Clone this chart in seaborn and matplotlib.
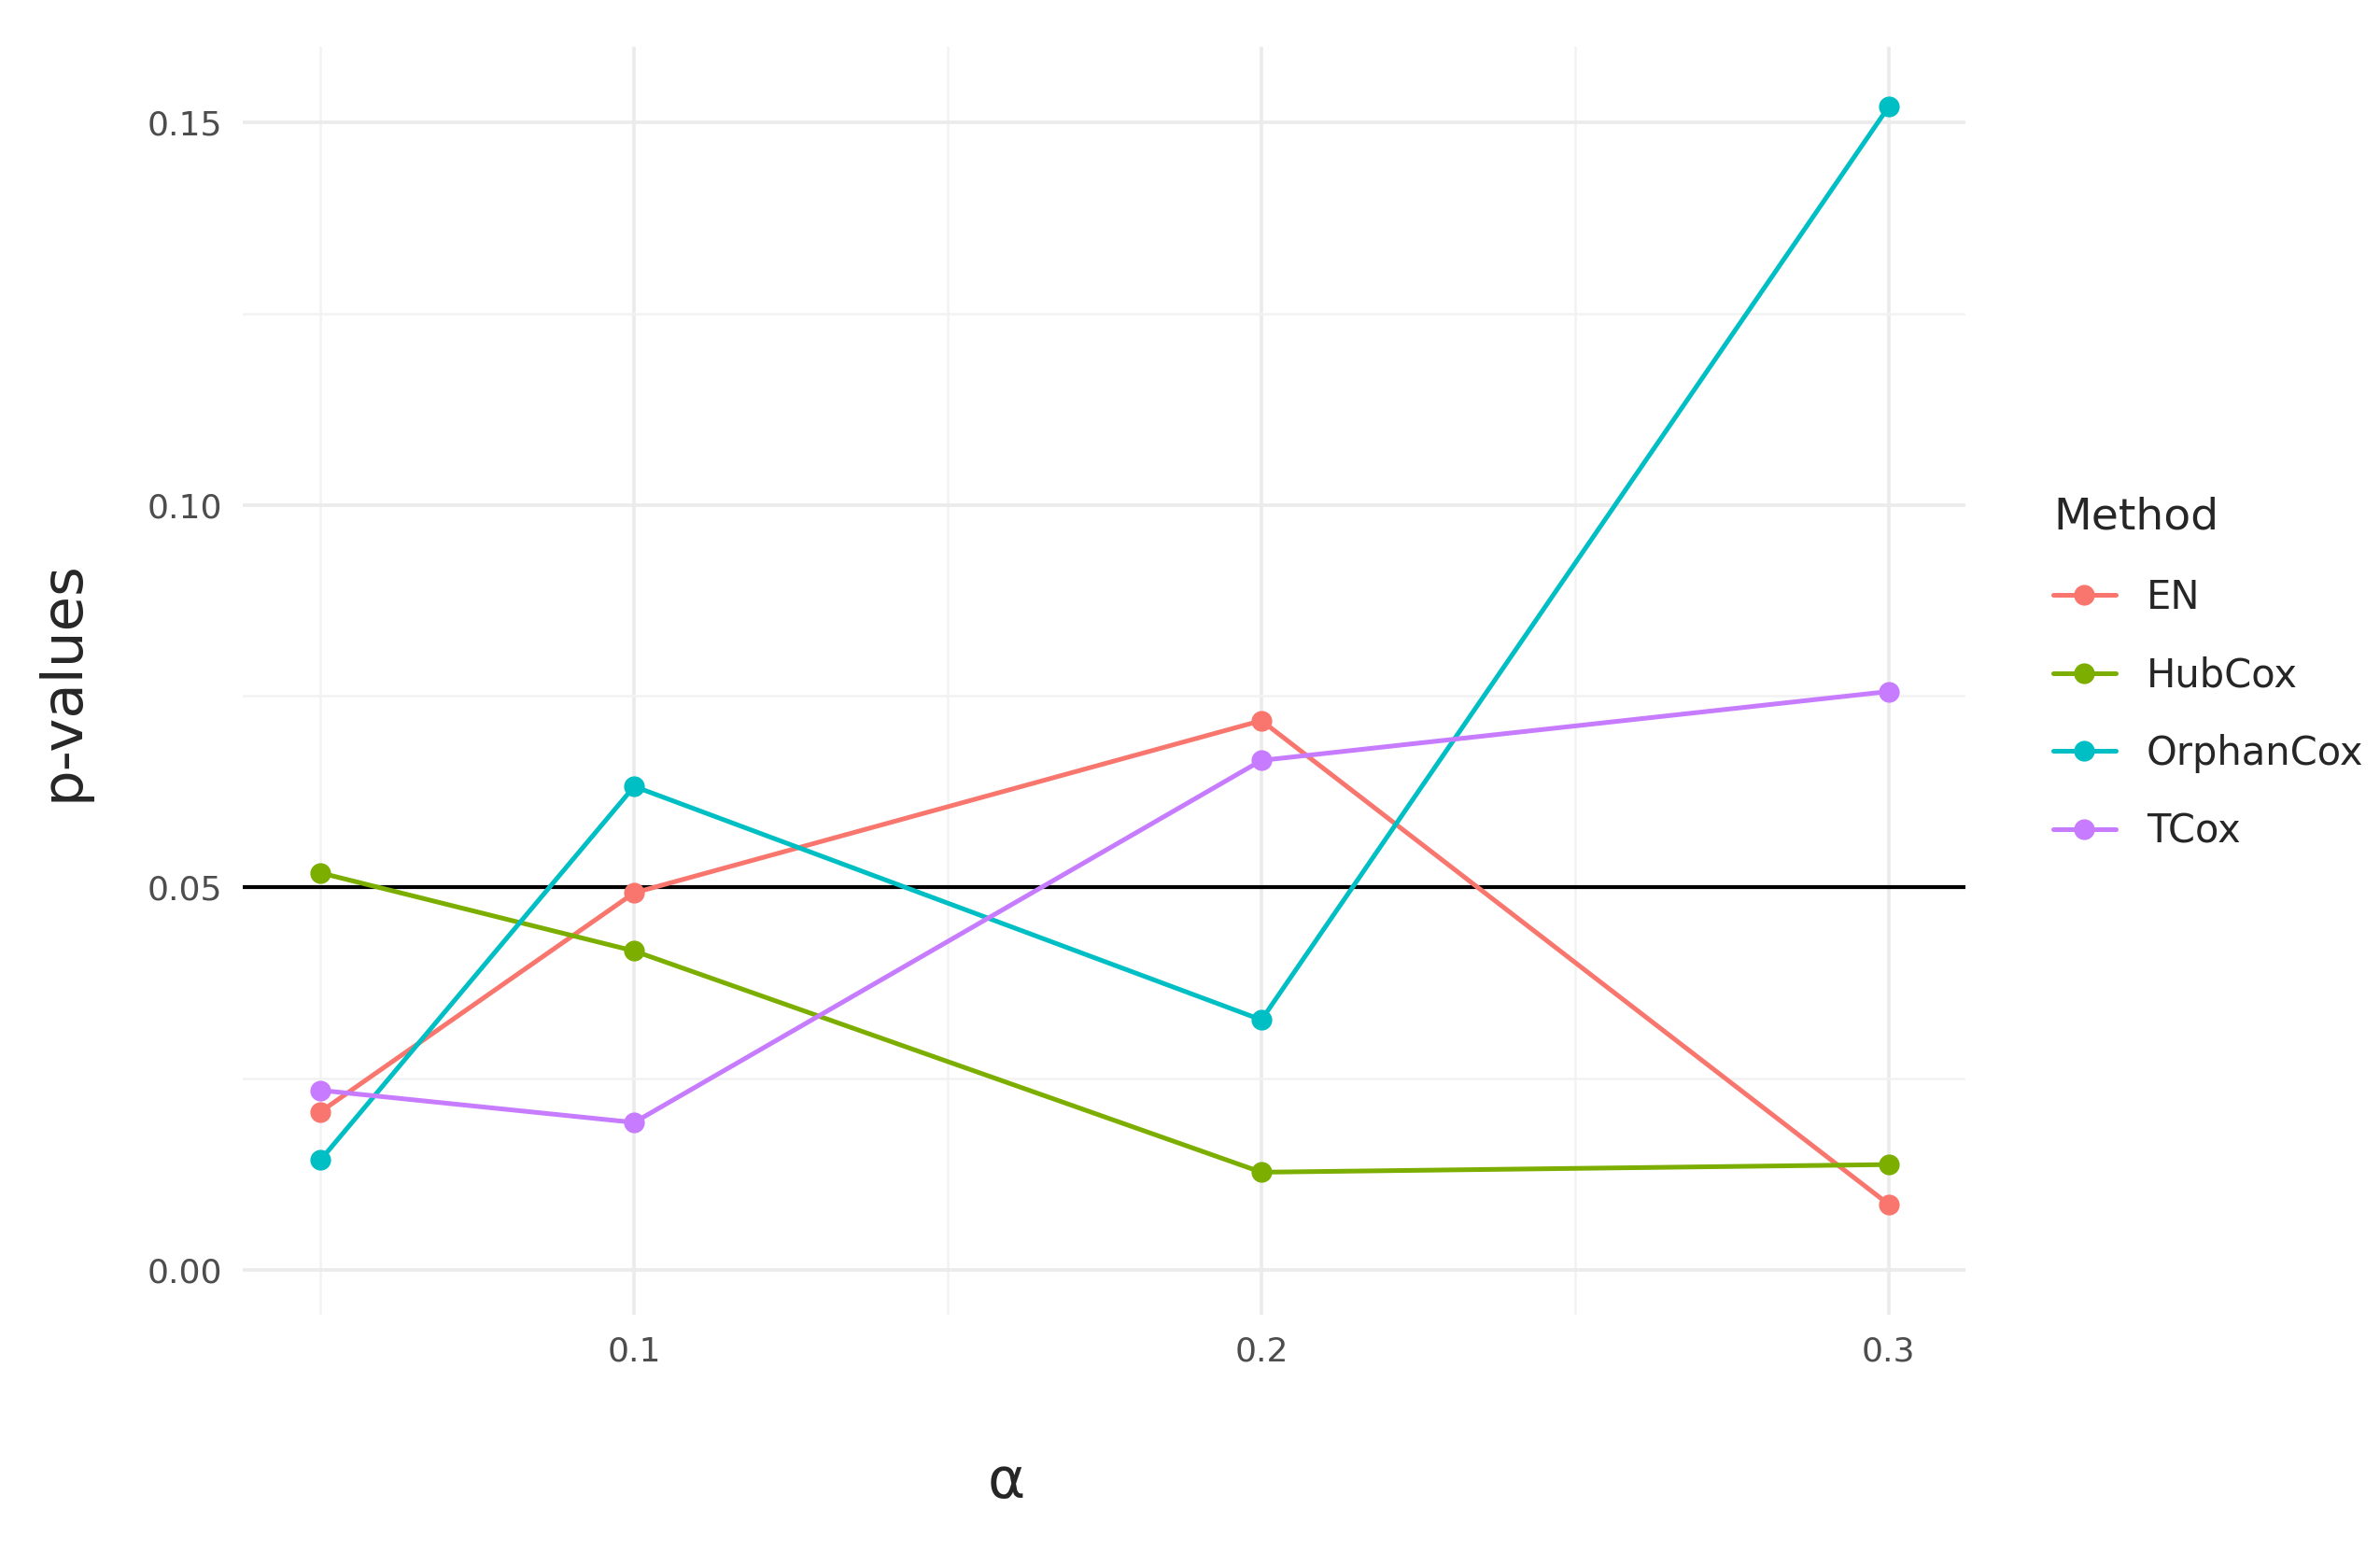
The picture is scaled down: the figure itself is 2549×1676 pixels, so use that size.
import numpy as np
import pandas as pd
import seaborn as sns
import matplotlib
matplotlib.use("Agg")
import matplotlib.pyplot as plt

alpha = [0.05, 0.1, 0.2, 0.3]
methods = ["EN", "HubCox", "OrphanCox", "TCox"]
en = [0.0207, 0.0493, 0.0718, 0.0086]
hubcox = [0.0519, 0.0417, 0.0128, 0.0138]
orphancox = [0.0144, 0.0632, 0.0327, 0.152]
tcox = [0.0235, 0.0193, 0.0666, 0.0756]

df = pd.DataFrame({
    "alpha": alpha * 4,
    "p": en + hubcox + orphancox + tcox,
    "Method": np.repeat(methods, len(alpha)),
})
palette = ["#F8766D", "#7CAE00", "#00BFC4", "#C77CFF"]

sns.set_style("white")
plt.rcParams["font.family"] = ["DejaVu Sans"]
fig = plt.figure(figsize=(12.745, 8.38), dpi=200)
ax = fig.add_axes([0.102, 0.16, 0.724, 0.81])

sns.lineplot(data=df, x="alpha", y="p", hue="Method", palette=palette,
             marker="o", markersize=8, markeredgewidth=0, linewidth=1.8,
             ax=ax, legend=True)
ax.axhline(0.05, color="black", linewidth=1.5, zorder=1)

ax.set_xlim(0.0376, 0.3123)
ax.set_ylim(-0.0058, 0.1598)
ax.set_xticks([0.1, 0.2, 0.3])
ax.set_xticklabels(["0.1", "0.2", "0.3"])
ax.set_xticks([0.05, 0.15, 0.25], minor=True)
ax.set_yticks([0.0, 0.05, 0.10, 0.15])
ax.set_yticklabels(["0.00", "0.05", "0.10", "0.15"])
ax.set_yticks([0.025, 0.075, 0.125], minor=True)
ax.grid(which="major", color="#EBEBEB", linewidth=1.3, zorder=0)
ax.grid(which="minor", color="#F2F2F2", linewidth=0.9, zorder=0)
ax.set_axisbelow(True)
ax.tick_params(axis="both", which="both", length=0, labelsize=13, colors="#4D4D4D", pad=8)
for s in ax.spines.values():
    s.set_visible(False)
ax.set_xlabel("")
fig.text(0.423, 0.035, "α", fontsize=22, ha="center", va="bottom")
ax.set_ylabel("p-values", fontsize=22, labelpad=22)

handles, labels = ax.get_legend_handles_labels()
ax.get_legend().remove()
leg = fig.legend(handles, labels, title="Method", loc="upper left",
                 bbox_to_anchor=(0.848, 0.705), frameon=False, fontsize=15,
                 title_fontsize=17, handlelength=1.6, labelspacing=1.0)
leg._legend_box.align = "left"

fig.savefig("out.png", dpi=200, facecolor="white")
